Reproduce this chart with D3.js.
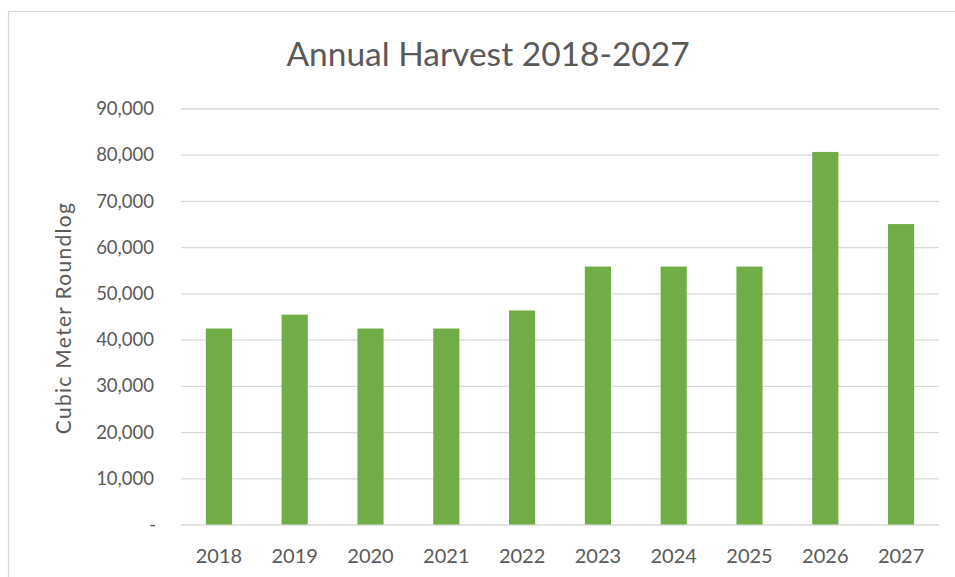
<!DOCTYPE html>
<html lang="en">
<head>
    <meta charset="utf-8">
    <title>Annual Harvest 2018-2027</title>
    <script src="https://cdn.jsdelivr.net/npm/d3@7"></script>
    <style>
        body { margin: 0; background: #fff; }
        text { font-family: Lato, "Open Sans", sans-serif; fill: #595959; }
    </style>
</head>
<body>
<script>
    var years = ["2018", "2019", "2020", "2021", "2022", "2023", "2024", "2025", "2026", "2027"];
    var harvest = [42400, 45400, 42400, 42400, 46300, 55800, 55800, 55800, 80600, 65000];
    var yTicks = [0, 10000, 20000, 30000, 40000, 50000, 60000, 70000, 80000, 90000];

    var w = 955, h = 577;
    var plotLeft = 181, plotRight = 939, plotTop = 108.5, plotBottom = 524.5;

    var svg = d3.select("body").append("svg")
        .attr("width", w)
        .attr("height", h);

    // chart border
    svg.append("rect")
        .attr("x", 8.5).attr("y", 11.5)
        .attr("width", w + 10).attr("height", h + 10)
        .attr("fill", "none")
        .attr("stroke", "#d9d9d9")
        .attr("stroke-width", 1.3);

    var x = d3.scaleBand().domain(years).range([plotLeft, plotRight]);
    var y = d3.scaleLinear().domain([0, 90000]).range([plotBottom, plotTop]);

    // gridlines
    svg.append("g")
        .attr("transform", "translate(" + plotLeft + ",0)")
        .call(d3.axisLeft(y).tickValues(yTicks).tickSize(-(plotRight - plotLeft)).tickFormat(""))
        .call(function (g) {
            g.select(".domain").remove();
            g.selectAll("line").attr("stroke", "#d9d9d9").attr("stroke-width", 1.3);
        });

    // y labels
    svg.append("g")
        .selectAll("text")
        .data(yTicks)
        .enter()
        .append("text")
        .attr("x", function (d) { return d === 0 ? 156 : 154; })
        .attr("y", function (d) { return y(d); })
        .attr("dy", "0.36em")
        .attr("text-anchor", "end")
        .attr("font-size", "18.5px")
        .text(function (d) { return d === 0 ? "-" : d3.format(",")(d); });

    // bars
    var barW = x.bandwidth() * 0.345;
    svg.selectAll("rect.bar")
        .data(harvest)
        .enter()
        .append("rect")
        .attr("class", "bar")
        .attr("x", function (d, i) { return x(years[i]) + (x.bandwidth() - barW) / 2; })
        .attr("y", function (d) { return y(d); })
        .attr("width", barW)
        .attr("height", function (d) { return plotBottom - y(d); })
        .attr("fill", "#70ad47");

    // x labels
    svg.append("g")
        .attr("transform", "translate(0," + plotBottom + ")")
        .call(d3.axisBottom(x).tickSize(0).tickPadding(0))
        .call(function (g) {
            g.select(".domain").remove();
            g.selectAll("text")
                .attr("y", 38.5)
                .attr("dy", null)
                .attr("font-size", "20px")
                .attr("fill", "#595959")
                .attr("font-family", "Lato, 'Open Sans', sans-serif");
        });

    // title
    svg.append("text")
        .attr("x", 488)
        .attr("y", 66)
        .attr("text-anchor", "middle")
        .attr("font-size", "33.5px")
        .text("Annual Harvest 2018-2027");

    // y axis title
    svg.append("text")
        .attr("transform", "translate(71,318) rotate(-90)")
        .attr("text-anchor", "middle")
        .attr("font-size", "21px")
        .attr("letter-spacing", "1.3px")
        .text("Cubic Meter Roundlog");
</script>
</body>
</html>
